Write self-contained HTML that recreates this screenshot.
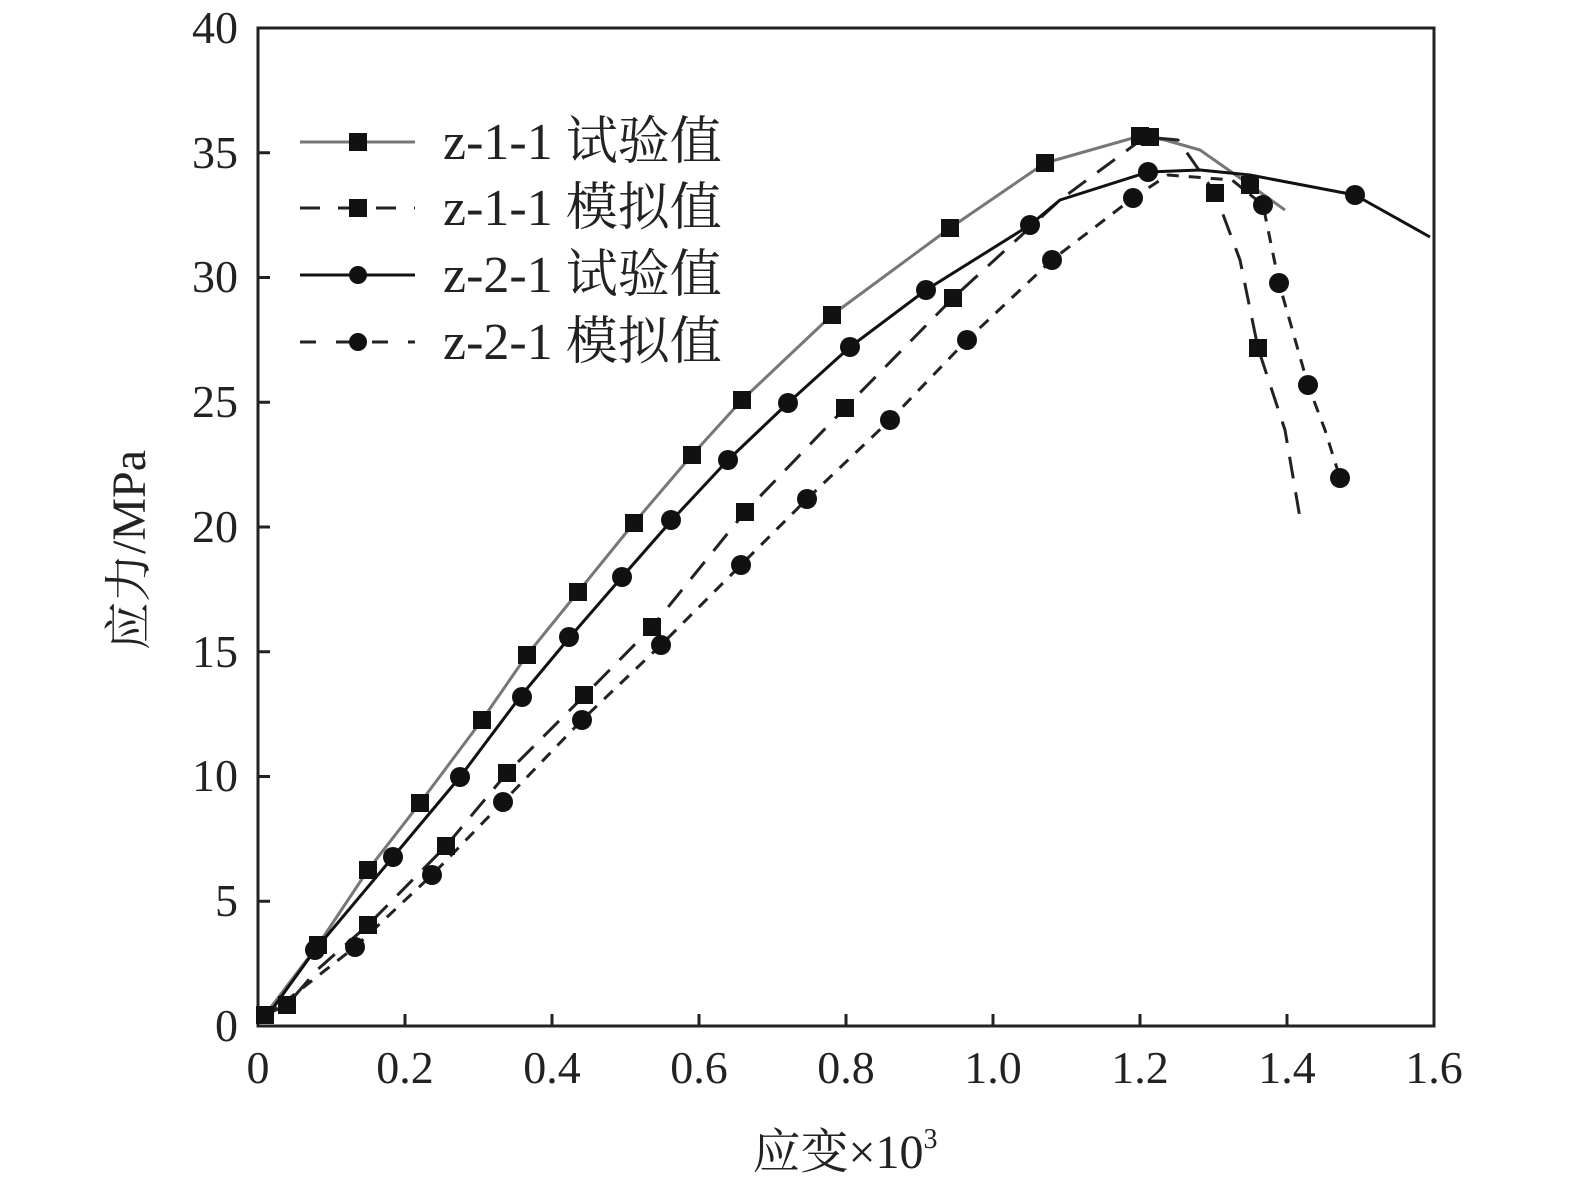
<!DOCTYPE html>
<html><head><meta charset="utf-8"><style>body{margin:0;background:#fff}</style></head><body>
<svg width="1575" height="1191" viewBox="0 0 1575 1191" xmlns="http://www.w3.org/2000/svg" font-family="Liberation Serif, Noto Serif CJK SC, serif">
<rect x="0" y="0" width="1575" height="1191" fill="#fff"/>
<g stroke="#222" stroke-width="3" fill="none">
<rect x="258" y="28" width="1176" height="998"/>
<path d="M405,1026v-12M552,1026v-12M699,1026v-12M846,1026v-12M993,1026v-12M1140,1026v-12M1287,1026v-12
M258,901.3h12M258,776.5h12M258,651.8h12M258,527h12M258,402.3h12M258,277.5h12M258,152.8h12"/>
</g>
<g font-size="46" fill="#222" text-anchor="end">
<text x="238" y="1041">0</text><text x="238" y="916">5</text><text x="238" y="791">10</text><text x="238" y="667">15</text><text x="238" y="542">20</text><text x="238" y="417">25</text><text x="238" y="292">30</text><text x="238" y="168">35</text><text x="238" y="43">40</text>
</g>
<g font-size="46" fill="#222" text-anchor="middle">
<text x="258" y="1083">0</text><text x="405" y="1083">0.2</text><text x="552" y="1083">0.4</text><text x="699" y="1083">0.6</text><text x="846" y="1083">0.8</text><text x="993" y="1083">1.0</text><text x="1140" y="1083">1.2</text><text x="1287" y="1083">1.4</text><text x="1434" y="1083">1.6</text>
<text x="845" y="1168" font-size="48">应变×10<tspan font-size="28" dy="-20">3</tspan></text>
<text transform="translate(145,550) rotate(-90)" font-size="48">应力/MPa</text>
</g>
<g fill="none" stroke-linejoin="round">
<polyline stroke="#777" stroke-width="3" points="265,1015 318,945 368,870 420,803 482,720 527,655 578,592 634,523 692,455 742,400 832,315 950,228 1045,163 1140,136 1165,140 1200,150 1250,185 1285,210"/>
<polyline stroke="#222" stroke-width="3" stroke-dasharray="22,14" points="265,1015 287,1005 317,970 368,925 446,846 507,773 585,695 652,627 745,512 845,408 953,298 1060,200 1145,137 1178,140 1215,193 1240,260 1258,348 1285,430 1300,518"/>
<polyline stroke="#111" stroke-width="3" points="268,1015 315,950 393,857 460,777 520,697 570,637 622,577 672,520 728,460 788,403 850,347 926,290 1030,225 1060,200 1148,172 1200,170 1250,175 1355,195 1430,237"/>
<polyline stroke="#222" stroke-width="3" stroke-dasharray="12,10" points="268,1015 300,990 355,947 432,875 503,802 582,720 661,645 741,565 807,499 890,420 967,340 1052,260 1133,198 1168,175 1232,180 1263,205 1279,283 1308,385 1325,430 1340,478"/>
</g>
<g fill="#111">
<g transform="translate(-9,-9)">
<rect x="318" y="945" width="18" height="18"/><rect x="368" y="870" width="18" height="18"/><rect x="420" y="803" width="18" height="18"/><rect x="482" y="720" width="18" height="18"/><rect x="527" y="655" width="18" height="18"/><rect x="578" y="592" width="18" height="18"/><rect x="634" y="523" width="18" height="18"/><rect x="692" y="455" width="18" height="18"/><rect x="742" y="400" width="18" height="18"/><rect x="832" y="315" width="18" height="18"/><rect x="950" y="228" width="18" height="18"/><rect x="1045" y="163" width="18" height="18"/><rect x="1140" y="136" width="18" height="18"/><rect x="1150" y="137" width="18" height="18"/><rect x="1250" y="185" width="18" height="18"/>
<rect x="368" y="925" width="18" height="18"/><rect x="446" y="846" width="18" height="18"/><rect x="507" y="773" width="18" height="18"/><rect x="584" y="695" width="18" height="18"/><rect x="652" y="627" width="18" height="18"/><rect x="745" y="512" width="18" height="18"/><rect x="845" y="408" width="18" height="18"/><rect x="953" y="298" width="18" height="18"/><rect x="1215" y="193" width="18" height="18"/><rect x="1258" y="348" width="18" height="18"/><rect x="265" y="1015" width="18" height="18"/><rect x="287" y="1005" width="18" height="18"/>
</g>
<circle cx="315" cy="950" r="10"/><circle cx="393" cy="857" r="10"/><circle cx="460" cy="777" r="10"/><circle cx="522" cy="697" r="10"/><circle cx="569" cy="637" r="10"/><circle cx="622" cy="577" r="10"/><circle cx="671" cy="520" r="10"/><circle cx="728" cy="460" r="10"/><circle cx="788" cy="403" r="10"/><circle cx="850" cy="347" r="10"/><circle cx="926" cy="290" r="10"/><circle cx="1030" cy="225" r="10"/><circle cx="1148" cy="172" r="10"/><circle cx="1355" cy="195" r="10"/>
<circle cx="355" cy="947" r="10"/><circle cx="432" cy="875" r="10"/><circle cx="503" cy="802" r="10"/><circle cx="582" cy="720" r="10"/><circle cx="661" cy="645" r="10"/><circle cx="741" cy="565" r="10"/><circle cx="807" cy="499" r="10"/><circle cx="890" cy="420" r="10"/><circle cx="967" cy="340" r="10"/><circle cx="1052" cy="260" r="10"/><circle cx="1133" cy="198" r="10"/><circle cx="1263" cy="205" r="10"/><circle cx="1279" cy="283" r="10"/><circle cx="1308" cy="385" r="10"/><circle cx="1340" cy="478" r="10"/>
</g>
<g stroke-width="3" fill="none">
<line x1="300" y1="142" x2="415" y2="142" stroke="#777"/>
<line x1="300" y1="208" x2="415" y2="208" stroke="#222" stroke-dasharray="20,18"/>
<line x1="300" y1="275" x2="415" y2="275" stroke="#111"/>
<line x1="300" y1="342" x2="415" y2="342" stroke="#222" stroke-dasharray="16,20"/>
</g>
<g fill="#111"><rect x="349" y="133" width="18" height="18"/><rect x="349" y="199" width="18" height="18"/><circle cx="358" cy="275" r="9"/><circle cx="358" cy="342" r="9"/></g>
<g font-size="52" fill="#222">
<text x="443" y="159">z-1-1 试验值</text><text x="443" y="225">z-1-1 模拟值</text><text x="443" y="292">z-2-1 试验值</text><text x="443" y="359">z-2-1 模拟值</text>
</g>
</svg>
</body></html>
